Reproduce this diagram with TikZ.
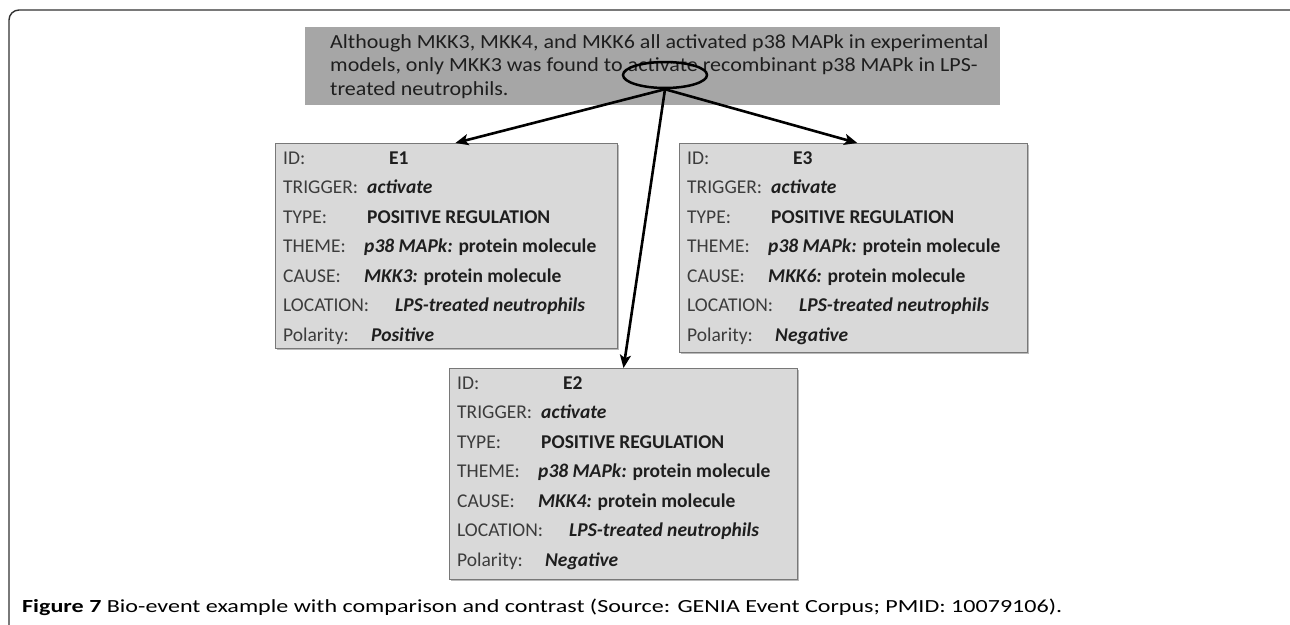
\documentclass[tikz,border=0pt]{standalone}
\usepackage{fontspec}
\setmainfont{Carlito}
\newfontfamily\topfont[FakeStretch=1.1]{Carlito}
\newfontfamily\capfont[FakeStretch=1.3]{Carlito}
\usetikzlibrary{arrows.meta,shadows,calc,shapes.geometric}
\definecolor{boxfill}{RGB}{217,217,217}
\definecolor{boxline}{RGB}{120,120,120}
\definecolor{topfill}{RGB}{166,166,166}
\definecolor{txt}{RGB}{30,30,30}
\definecolor{lbl}{RGB}{60,60,60}
\definecolor{framec}{RGB}{50,50,50}
\tikzset{
  evbox/.style={draw=boxline, line width=1pt, fill=boxfill, anchor=north west, inner sep=0pt,
    drop shadow={shadow xshift=1.2pt, shadow yshift=-1.5pt, fill=black!45, opacity=0.6}},
  topbox/.style={fill=topfill, anchor=north west, inner sep=0pt, minimum width=695pt, minimum height=78pt},
  lblstyle/.style={anchor=base west, inner sep=0pt, text=lbl, font=\fontsize{19.5}{22}\selectfont},
  valstyle/.style={anchor=base west, inner sep=0pt, text=txt, font=\fontsize{19.5}{22}\selectfont\bfseries},
  toptext/.style={anchor=base west, inner sep=0pt, text=txt, font=\fontsize{20}{22}\topfont},
  arr/.style={line width=2.6pt, -{Stealth[length=13pt,width=11pt,inset=3pt]}},
  framestyle/.style={draw=framec, line width=1.4pt}
}
\newcommand\evrow[5]{%
  \node[lblstyle] (#1-l#2) at ($(#1.north west)+(8,{21+#2*29.5})$) {#3};
  \node[valstyle] (#1-v#2) at ($(#1.north west)+(#5,{21+#2*29.5})$) {#4};}
\newcommand\evcontent[4]{% box, id, cause, polarity
  \evrow{#1}{0}{ID:}{#2}{114}
  \evrow{#1}{1}{TRIGGER:}{\itshape activate}{92}
  \evrow{#1}{2}{TYPE:}{POSITIVE REGULATION}{92}
  \evrow{#1}{3}{THEME:}{\textit{p38 MAPk:} protein molecule}{89}
  \evrow{#1}{4}{CAUSE:}{\textit{#3:} protein molecule}{89}
  \evrow{#1}{5}{LOCATION:}{\itshape LPS-treated neutrophils}{120}
  \evrow{#1}{6}{Polarity:}{\itshape #4}{96}}
\begin{document}
\begin{tikzpicture}[x=1pt,y=-1pt]
\useasboundingbox (0,0) rectangle (1290,624);
\clip (0,0) rectangle (1290,624);
\fill[white] (0,0) rectangle (1290,624);
% frame
\draw[framestyle, rounded corners=10pt] (9,650) -- (9,10) -- (1300,10) -- (1300,60);
% top sentence box
\node[topbox] (top) at (305,27) {};
\node[toptext] (t1) at (330,48) {Although MKK3, MKK4, and MKK6 all activated p38 MAPk in experimental};
\node[toptext] (t2) at (330,71.5) {models, only MKK3 was found to activate recombinant p38 MAPk in LPS-};
\node[toptext] (t3) at (330,95) {treated neutrophils.};
\node[draw=black, line width=2.5pt, ellipse, minimum width=84pt, minimum height=26pt, inner sep=0pt] (ell) at (665,75) {};
% event boxes
\node[evbox, minimum width=342pt, minimum height=205pt] (E1) at (275,143) {};
\node[evbox, minimum width=348pt, minimum height=209pt] (E3) at (679,143) {};
\node[evbox, minimum width=348pt, minimum height=211pt] (E2) at (449,368) {};
\evcontent{E1}{E1}{MKK3}{Positive}
\evcontent{E3}{E3}{MKK6}{Negative}
\evcontent{E2}{E2}{MKK4}{Negative}
% arrows
\draw[arr] (ell.south) -- ($(E1.north west)!0.526!(E1.north east)$);
\draw[arr] (ell.south) -- ($(E3.north west)!0.511!(E3.north east)$);
\draw[arr] (ell.south) -- (E2.north);
% caption
\node[anchor=base west, inner sep=0pt, text=black, font=\fontsize{18.5}{20}\capfont] (cap) at (22,612)
  {\textbf{Figure 7} Bio-event example with comparison and contrast (Source: GENIA Event Corpus; PMID: 10079106).};
\end{tikzpicture}
\end{document}
